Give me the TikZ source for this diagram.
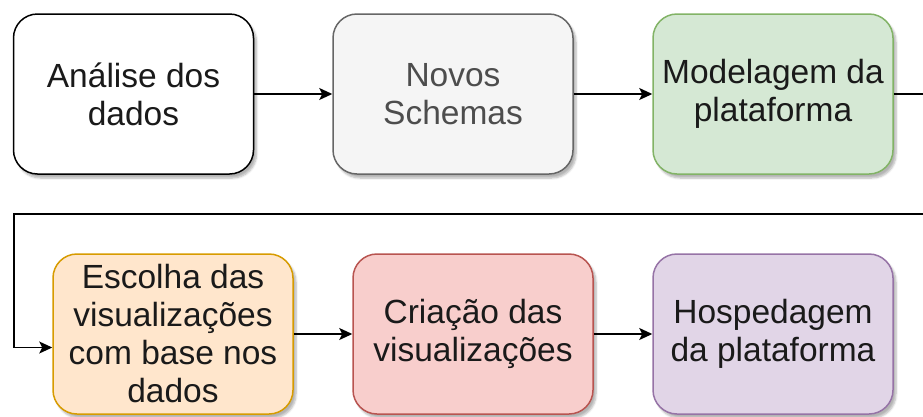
\documentclass[tikz,border=0pt]{standalone}
\usepackage{fontspec}
\setmainfont{Liberation Sans}
\usetikzlibrary{arrows.meta,shadows.blur}
\definecolor{txt}{HTML}{1A1A1A}
\definecolor{graytxt}{HTML}{4D4D4D}
\tikzset{
  box/.style={rounded corners=24pt, minimum width=240pt, minimum height=160pt,
    inner sep=0pt, align=center, line width=1.5pt, text=txt,
    font=\fontsize{33.5}{38}\selectfont,
    blur shadow={shadow xshift=3pt, shadow yshift=-4pt, shadow blur steps=6, shadow opacity=30}},
  conn/.style={line width=1.5pt, draw=black},
  arr/.style={conn, -{Stealth[length=13pt,width=12pt,inset=3pt]}},
}
\begin{document}
\begin{tikzpicture}[x=1pt,y=-1pt]
\useasboundingbox (0,0) rectangle (923,416);
\node[box, draw=black, fill=white] (a) at (133.5,94) {Análise dos\\dados};
\node[box, draw=black!60, fill=black!4, text=graytxt] (n) at (453,94) {Novos\\Schemas};
\node[box, draw={rgb,255:red,130;green,179;blue,102}, fill={rgb,255:red,213;green,232;blue,212}] (m) at (773,94) {Modelagem da\\plataforma};
\node[box, draw={rgb,255:red,215;green,155;blue,0}, fill={rgb,255:red,255;green,230;blue,204}] (e) at (173,334) {Escolha das\\visualizações\\com base nos\\dados};
\node[box, draw={rgb,255:red,184;green,84;blue,80}, fill={rgb,255:red,248;green,206;blue,204}] (c) at (473,334) {Criação das\\visualizações};
\node[box, draw={rgb,255:red,150;green,115;blue,166}, fill={rgb,255:red,225;green,213;blue,231}] (h) at (773,334) {Hospedagem\\da plataforma};
\coordinate (r1) at (923,94);
\coordinate (r2) at (923,214);
\coordinate (l1) at (14,214);
\draw[arr] (a) -- (n);
\draw[arr] (n) -- (m);
\draw[conn] (m) -- (r1);
\draw[arr] (r2) -- (l1) |- ([yshift=-13.5pt]e.west);
\draw[arr] (e) -- (c);
\draw[arr] (c) -- (h);
\end{tikzpicture}
\end{document}
